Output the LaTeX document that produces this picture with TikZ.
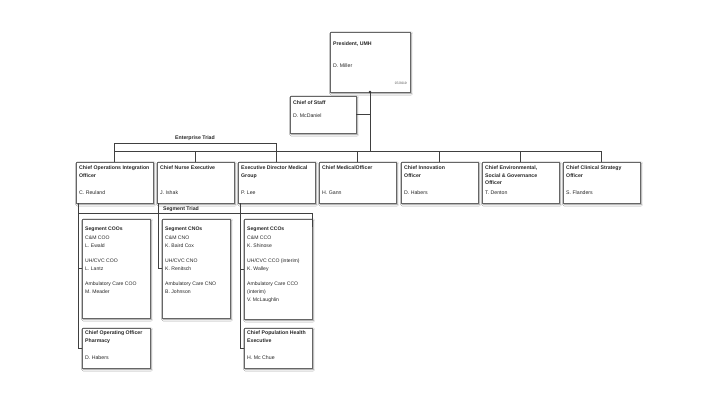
\documentclass[tikz,border=0pt]{standalone}
\usepackage{fontspec}
\setmainfont{Liberation Sans}
\usetikzlibrary{shadows.blur,calc}
\newcommand{\fsz}{\fontsize{5.2}{7.6}\selectfont}
\begin{document}
\begin{tikzpicture}[x=1pt,y=-1pt,
 box/.style={draw=black!60, line width=0.7pt, fill=white, anchor=north west, inner sep=0, outer sep=0,
   blur shadow={shadow xshift=1.3pt, shadow yshift=-1.5pt, shadow blur radius=1.6pt, shadow opacity=45}},
 conn/.style={draw=black!75, line width=0.75pt},
 ttl/.style={anchor=north west, inner sep=0, font=\fsz\bfseries, align=left, text=black!85},
 nm/.style={anchor=base west, inner sep=0, font=\fsz, text=black!85},
 lbl/.style={inner sep=0, font=\fsz\bfseries, text=black!85},
 seg/.style={anchor=north west, inner sep=0, font=\fontsize{5.1}{8}\selectfont, align=left, text=black!85}]
\useasboundingbox[fill=white] (0,0) rectangle (720,405);

% president and chief of staff
\node[box, minimum width=80, minimum height=60] (P) at (330,32) {};
\node[ttl] (Pt) at ($(P.north west)+(3,10)$) {President, UMH};
\node[nm] (Pn) at ($(P.north west)+(3,35)$) {D. Miller};
\node[anchor=base east, inner sep=0, font=\fontsize{3.3}{4}\selectfont, text=black!70] (Pd) at ($(P.north east)+(-3,52)$) {07/2019};

\node[box, minimum width=66, minimum height=37] (S) at (290,96) {};
\node[ttl] (St) at ($(S.north west)+(3,5)$) {Chief of Staff};
\node[nm] (Sn) at ($(S.north west)+(3,21)$) {D. McDaniel};

% top row
\foreach \n/\x in {r1/76,r2/157,r3/238,r4/319,r5/401,r6/482,r7/563}
  \node[box, minimum width=77, minimum height=41] (\n) at (\x,162) {};

\node[ttl] (t1) at ($(r1.north west)+(3,3.5)$) {Chief Operations Integration\\Officer};
\node[nm]  (n1) at ($(r1.north west)+(3,32)$) {C. Reuland};
\node[ttl] (t2) at ($(r2.north west)+(3,3.5)$) {Chief Nurse Executive};
\node[nm]  (n2) at ($(r2.north west)+(3,32)$) {J. Ishak};
\node[ttl] (t3) at ($(r3.north west)+(3,3.5)$) {Executive Director Medical\\Group};
\node[nm]  (n3) at ($(r3.north west)+(3,32)$) {P. Lee};
\node[ttl] (t4) at ($(r4.north west)+(3,3.5)$) {Chief MedicalOfficer};
\node[nm]  (n4) at ($(r4.north west)+(3,32)$) {H. Gann};
\node[ttl] (t5) at ($(r5.north west)+(3,3.5)$) {Chief Innovation\\Officer};
\node[nm]  (n5) at ($(r5.north west)+(3,32)$) {D. Habers};
\node[ttl] (t6) at ($(r6.north west)+(3,3.5)$) {Chief Environmental,\\Social \& Governance\\Officer};
\node[nm]  (n6) at ($(r6.north west)+(3,32)$) {T. Denton};
\node[ttl] (t7) at ($(r7.north west)+(3,3.5)$) {Chief Clinical Strategy\\Officer};
\node[nm]  (n7) at ($(r7.north west)+(3,32)$) {S. Flanders};

% segment boxes
\node[box, minimum width=68, minimum height=99] (coo) at (82,219) {};
\node[seg] (cooT) at ($(coo.north west)+(3,7.5)$) {\textbf{Segment COOs}\\[1pt]C\&M COO\\L. Ewald\\[7pt]UH/CVC COO\\L. Lantz\\[7pt]Ambulatory Care COO\\M. Meader};
\node[box, minimum width=68, minimum height=99] (cno) at (162,219) {};
\node[seg] (cnoT) at ($(cno.north west)+(3,7.5)$) {\textbf{Segment CNOs}\\[1pt]C\&M CNO\\K. Baird Cox\\[7pt]UH/CVC CNO\\K. Renitsch\\[7pt]Ambulatory Care CNO\\B. Johnson};
\node[box, minimum width=68, minimum height=100] (cco) at (244,219) {};
\node[seg] (ccoT) at ($(cco.north west)+(3,7.5)$) {\textbf{Segment CCOs}\\[1pt]C\&M CCO\\K. Shinose\\[7pt]UH/CVC CCO (interim)\\K. Walley\\[7pt]Ambulatory Care CCO\\(interim)\\V. McLaughlin};

% bottom boxes
\node[box, minimum width=68, minimum height=40] (ph) at (82,328) {};
\node[ttl] (pht) at ($(ph.north west)+(3,3)$) {Chief Operating Officer\\Pharmacy};
\node[nm]  (phn) at ($(ph.north west)+(3,31)$) {D. Habers};
\node[box, minimum width=68, minimum height=40] (pop) at (244,328) {};
\node[ttl] (popt) at ($(pop.north west)+(3,3)$) {Chief Population Health\\Executive};
\node[nm]  (popn) at ($(pop.north west)+(3,31)$) {H. Mc Chue};

% connectors: top
\coordinate (busY) at (0,151);
\coordinate (triY) at (0,143);
\draw[conn] (P.south) -- (P.south |- busY);
\fill[black!80] (P.south) circle (1.4);
\draw[conn] (S.east) -- (S.east -| P.south);
\draw[conn] (r1.north |- busY) -- (r7.north |- busY) -- (r7.north);
\foreach \n in {r2,r4,r5,r6} \draw[conn] (\n.north |- busY) -- (\n.north);
\draw[conn] (r1.north) -- (r1.north |- triY) -- (r3.north |- triY) -- (r3.north);
\node[lbl] (ET) at (195,138) {Enterprise Triad};

% connectors: segments
\coordinate (c1) at ($(r1.south west)+(2,0)$);
\coordinate (c2) at ($(r2.south west)+(1.5,0)$);
\coordinate (c3) at ($(r3.south west)+(2,0)$);
\coordinate (stY) at (0,213);
\draw[conn] (c1) |- (ph.west);
\draw[conn] (c1 |- coo.west) -- (coo.west);
\draw[conn] (c2) |- (cno.west);
\draw[conn] (c3) |- (pop.west);
\draw[conn] (c3 |- cco.west) -- (cco.west);
\draw[conn] (c1 |- stY) -- (stY -| cco.north east) -- ++(0,14);
\node[lbl] (ST) at (181,209) {Segment Triad};
\end{tikzpicture}
\end{document}
